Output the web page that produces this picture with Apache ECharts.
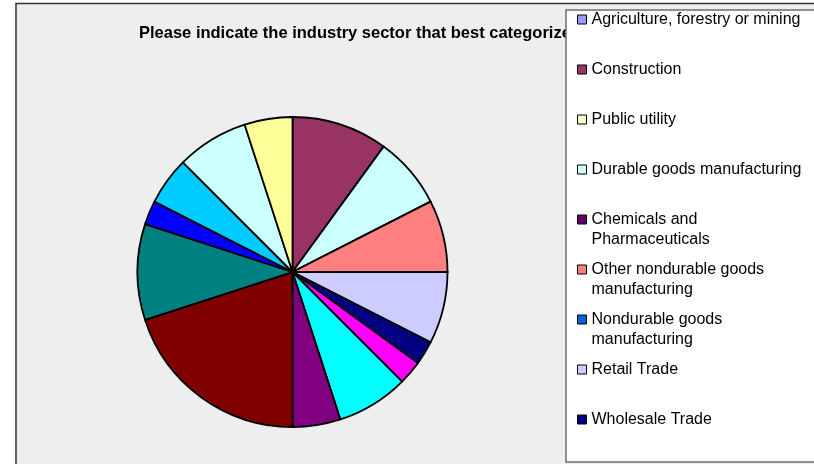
<!DOCTYPE html>
<html>
<head>
<meta charset="utf-8">
<script src="https://cdn.jsdelivr.net/npm/echarts@6/dist/echarts.min.js"></script>
<style>
  html, body { margin: 0; padding: 0; background: #ffffff; }
  #chart { width: 814px; height: 464px; }
</style>
</head>
<body>
<div id="chart"></div>
<script>
// Survey responses by industry sector (number of respondents)
const sectors = [
  'Agriculture, forestry or mining',
  'Construction',
  'Public utility',
  'Durable goods manufacturing',
  'Chemicals and Pharmaceuticals',
  'Other nondurable goods manufacturing',
  'Nondurable goods manufacturing',
  'Retail Trade',
  'Wholesale Trade',
  'Transportation',
  'Communications',
  'Financial services',
  'Insurance',
  'Business services',
  'Health care',
  'Education',
  'Government',
  'Other'
];
const responses = [0, 4, 0, 3, 0, 3, 0, 3, 1, 1, 3, 2, 8, 4, 1, 2, 3, 2];
const sliceColors = [
  '#9999FF', '#993366', '#FFFFCC', '#CCFFFF', '#660066', '#FF8080',
  '#0066CC', '#CCCCFF', '#000080', '#FF00FF', '#00FFFF', '#800080',
  '#800000', '#008080', '#0000FF', '#00CCFF', '#CCFFFF', '#FFFF99'
];
// Entries listed in the legend panel
const legendNames = sectors.slice(0, 9);
// Line breaks used in the legend panel
const legendLabels = {
  'Chemicals and Pharmaceuticals': 'Chemicals and\nPharmaceuticals',
  'Other nondurable goods manufacturing': 'Other nondurable goods\nmanufacturing',
  'Nondurable goods manufacturing': 'Nondurable goods\nmanufacturing'
};
const titleText = 'Please indicate the industry sector that best categorizes your organization';

const chart = echarts.init(document.getElementById('chart'), null, { renderer: 'canvas' });

const pieData = sectors.map((name, i) => ({
  name: name,
  value: responses[i],
  itemStyle: { color: sliceColors[i] }
}));

chart.setOption({
  animation: false,
  backgroundColor: '#ffffff',
  title: {
    text: titleText,
    left: 139,
    top: 25,
    padding: 0,
    z: 6,
    textStyle: {
      fontFamily: 'Liberation Sans, Arial, sans-serif',
      fontSize: 16.5,
      fontWeight: 'bold',
      color: '#000000'
    }
  },
  graphic: [
    {
      type: 'rect',
      z: -10,
      shape: { x: 16, y: 3.5, width: 830, height: 480 },
      style: { fill: '#EEEEEE', stroke: '#333333', lineWidth: 1.5 }
    },
    {
      type: 'rect',
      z: 50,
      shape: { x: 566, y: 10, width: 270, height: 452 },
      style: { fill: '#FFFFFF', stroke: '#6e6e6e', lineWidth: 1.5 }
    }
  ],
  legend: {
    data: legendNames,
    orient: 'vertical',
    left: 577,
    top: -10.5,
    padding: 0,
    itemGap: -10,
    itemWidth: 9,
    itemHeight: 9,
    z: 60,
    selectedMode: false,
    icon: 'rect',
    itemStyle: { borderColor: '#000000', borderWidth: 1 },
    formatter: function (name) {
      const label = legendLabels[name];
      return label ? '\n' + label : '\n' + name + '\n';
    },
    textStyle: {
      fontFamily: 'Liberation Sans, Arial, sans-serif',
      fontSize: 16,
      lineHeight: 20,
      color: '#000000'
    }
  },
  series: [
    {
      type: 'pie',
      center: [292.5, 272],
      radius: 155,
      startAngle: 90,
      clockwise: true,
      avoidLabelOverlap: false,
      label: { show: false },
      labelLine: { show: false },
      emphasis: { disabled: true },
      itemStyle: { borderColor: '#000000', borderWidth: 1.8 },
      data: pieData
    }
  ]
});
</script>
</body>
</html>
